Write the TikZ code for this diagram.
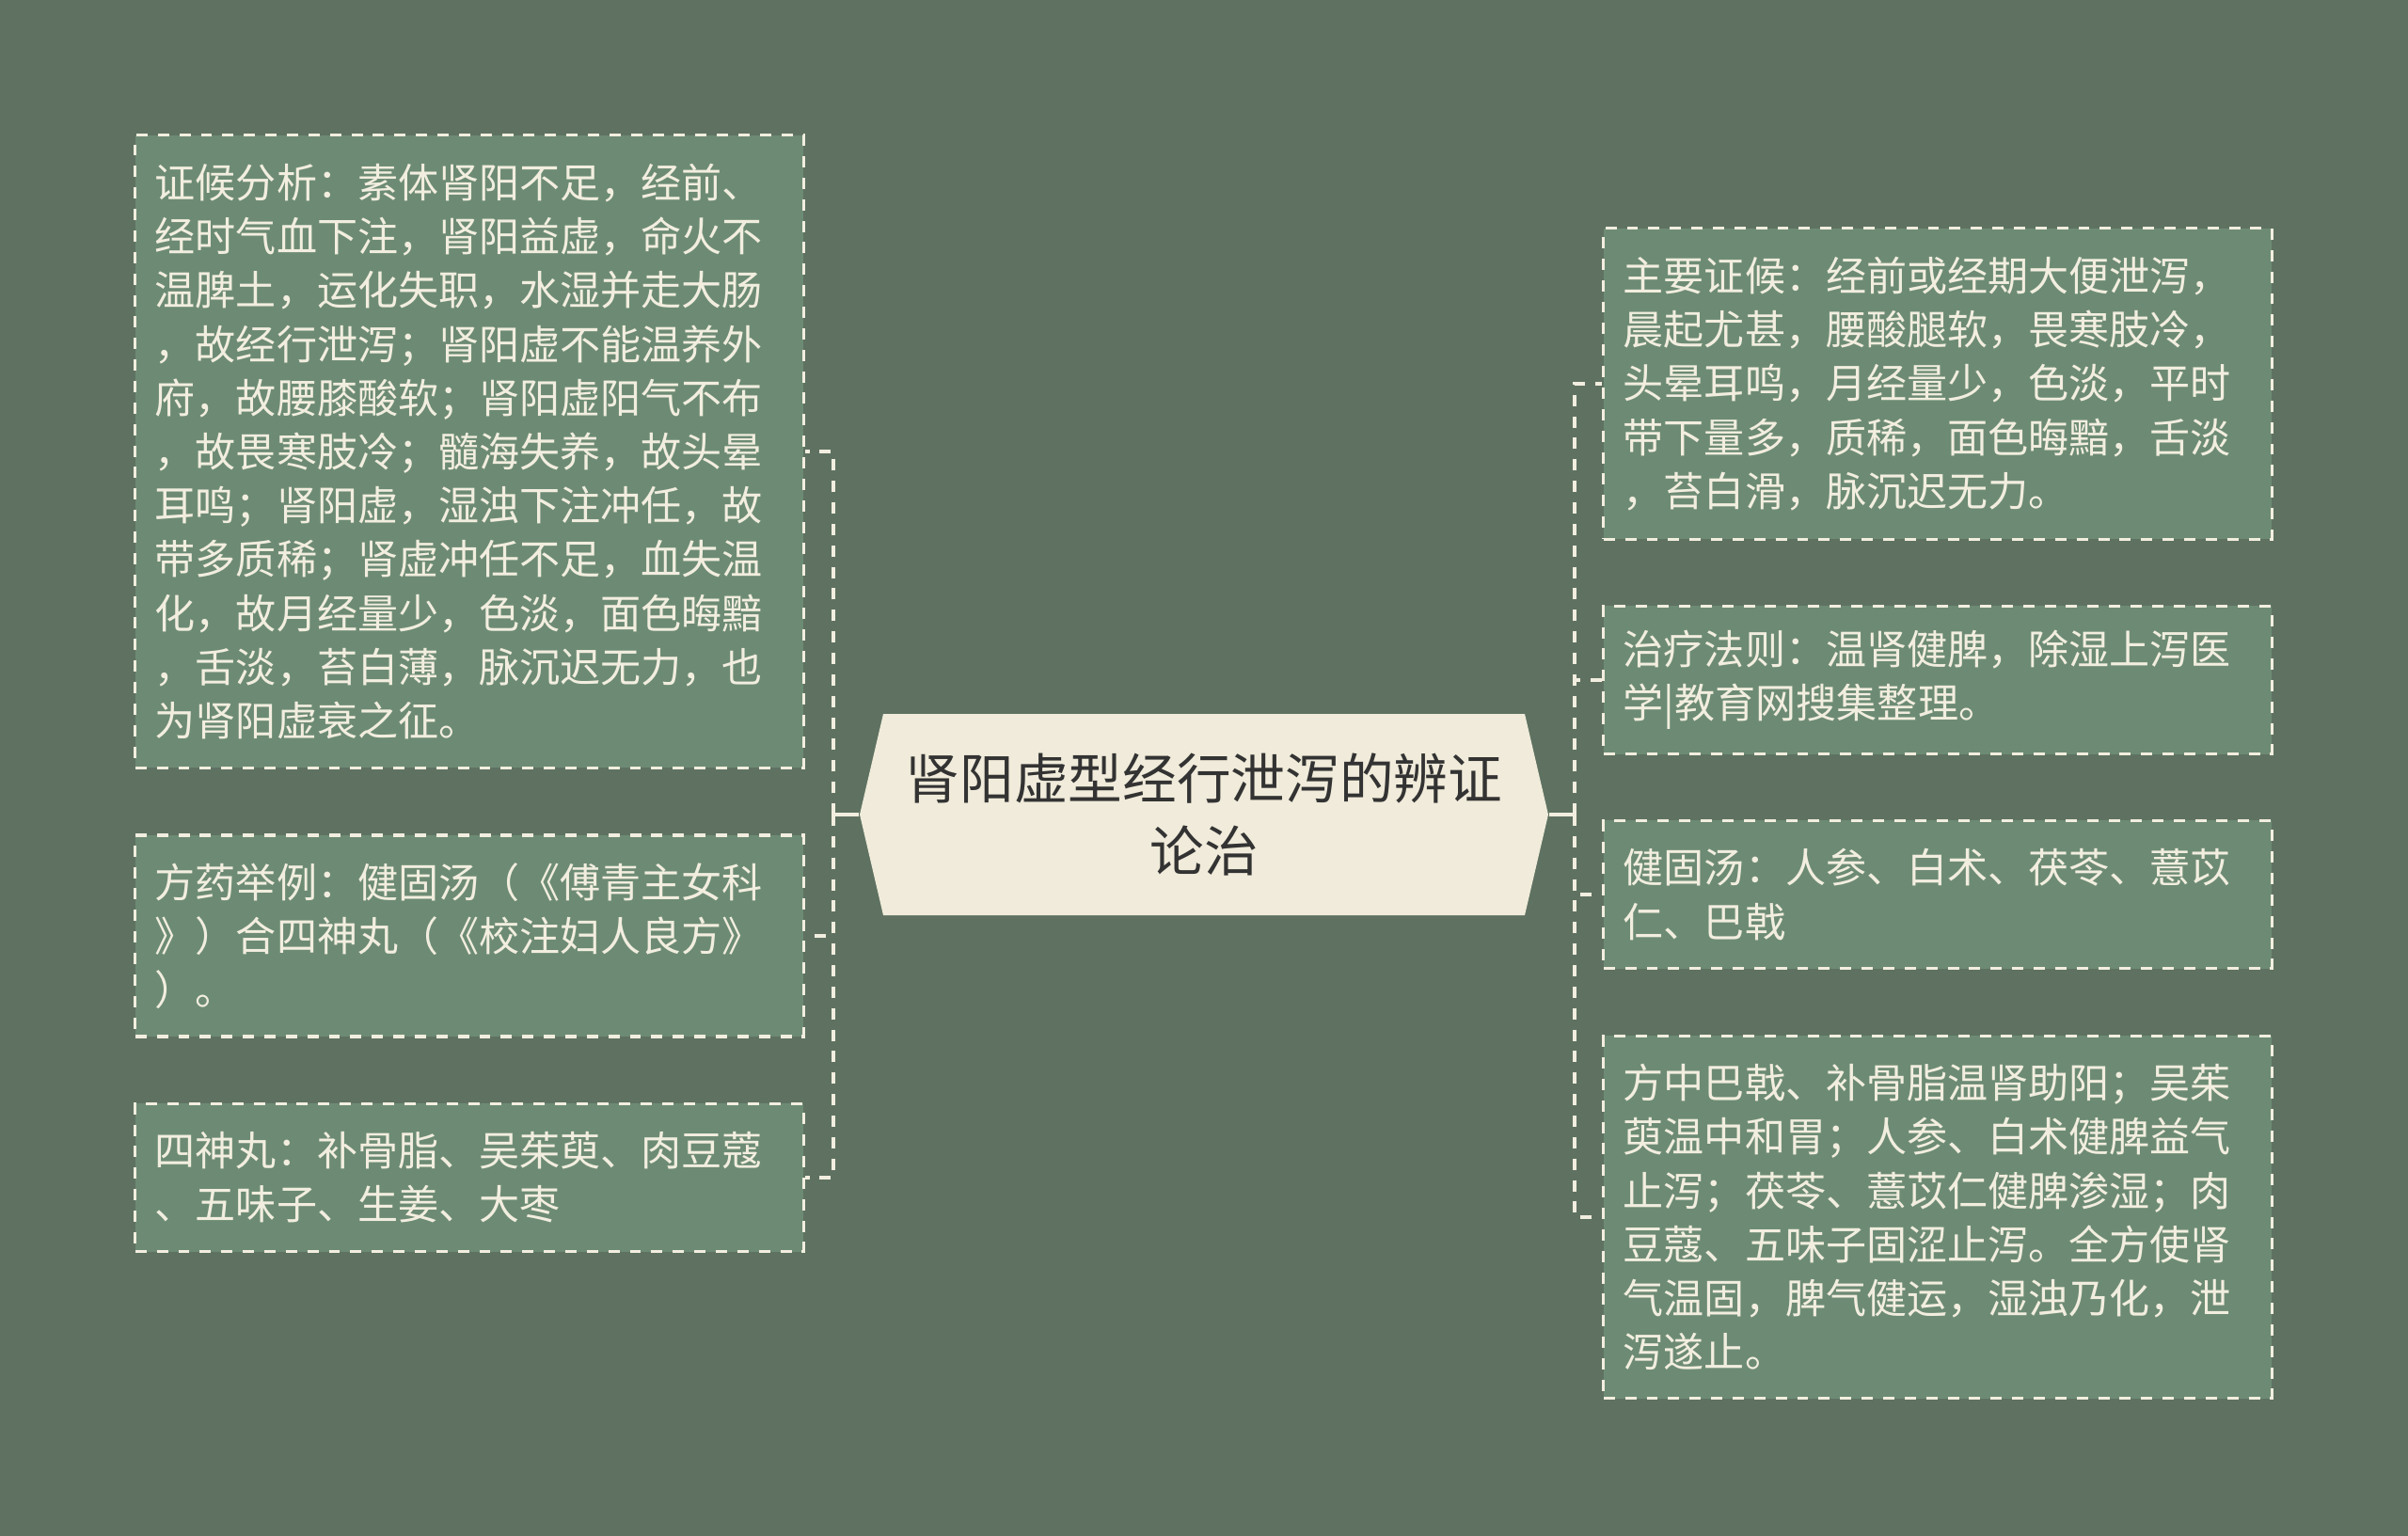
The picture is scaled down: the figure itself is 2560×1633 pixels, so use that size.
\documentclass[tikz,border=0pt]{standalone}
\usepackage{fontspec}
\setmainfont{Noto Sans CJK SC}
\definecolor{bgcol}{HTML}{5F7262}
\definecolor{boxcol}{HTML}{6D8B74}
\definecolor{linecol}{HTML}{F2EEDF}
\definecolor{hubcol}{HTML}{F0EBDA}
\definecolor{hubtext}{HTML}{333333}
\tikzset{leaf/.style = {draw=linecol, fill=boxcol, dash pattern=on 3.4pt off 3.1pt, line width=0.9pt, text=linecol, align=left, text width=6.68cm, inner xsep=0.21cm, inner ysep=0.2cm, minimum width=7.1cm, font=\fontsize{12.25pt}{16.26pt}\selectfont}}
\tikzset{link/.style = {draw=linecol, line width=0.9pt, dash pattern=on 3.4pt off 3.1pt}}
\tikzset{hub/.style = {text=hubtext, align=center, minimum width=7.32cm, minimum height=2.14cm, font=\fontsize{16.4pt}{21.8pt}\selectfont}}

\begin{document}
\begin{tikzpicture}[x=0.01cm, y=-0.01cm]
        \fill [bgcol] (0,0) rectangle (2560,1633);
        \useasboundingbox (0,0) rectangle (2560,1633);
        % centre hexagon
        \fill [hubcol] (914,866) -- (939,759) -- (1621,759) -- (1646,866) -- (1621,973) -- (939,973) -- cycle;
        \node [hub] (hub) at (1280,866) {肾阳虚型经行泄泻的辨证\\论治};
        % left column
        \node [leaf, minimum height=6.72cm] (analysis) at (499,480) {证候分析：素体肾阳不足，经前、\\经时气血下注，肾阳益虚，命火不\\温脾土，运化失职，水湿并走大肠\\，故经行泄泻；肾阳虚不能温养外\\府，故腰膝酸软；肾阳虚阳气不布\\，故畏寒肢冷；髓海失养，故头晕\\耳鸣；肾阳虚，湿浊下注冲任，故\\带多质稀；肾虚冲任不足，血失温\\化，故月经量少，色淡，面色晦黯\\，舌淡，苔白薄，脉沉迟无力，也\\为肾阳虚衰之征。};
        \node [leaf, minimum height=2.14cm] (recipe) at (499,995) {方药举例：健固汤（《傅青主女科\\》）合四神丸（《校注妇人良方》\\）。};
        \node [leaf, minimum height=1.57cm] (sishen) at (499,1252) {四神丸：补骨脂、吴茱萸、肉豆蔻\\、五味子、生姜、大枣};
        % right column
        \node [leaf, minimum height=3.3cm] (signs) at (2060,408) {主要证候：经前或经期大便泄泻，\\晨起尤甚，腰酸腿软，畏寒肢冷，\\头晕耳鸣，月经量少，色淡，平时\\带下量多，质稀，面色晦黯，舌淡\\，苔白滑，脉沉迟无力。};
        \node [leaf, minimum height=1.57cm] (rule) at (2060,723) {治疗法则：温肾健脾，除湿上泻医\\学|教育网搜集整理。};
        \node [leaf, minimum height=1.57cm] (jiangu) at (2060,951) {健固汤：人参、白术、茯苓、薏苡\\仁、巴戟};
        \node [leaf, minimum height=3.85cm] (explain) at (2060,1294) {方中巴戟、补骨脂温肾助阳；吴茱\\萸温中和胃；人参、白术健脾益气\\止泻；茯苓、薏苡仁健脾渗湿；肉\\豆蔻、五味子固涩止泻。全方使肾\\气温固，脾气健运，湿浊乃化，泄\\泻遂止。};
        % connectors
        \coordinate (lfork) at (886,866);
        \coordinate (rfork) at (1674,866);
        \draw [linecol, line width=0.9pt] (hub.west) -- (lfork);
        \draw [linecol, line width=0.9pt] (hub.east) -- (rfork);
        \foreach \leafname in {analysis,recipe,sishen}
            \draw [link] (lfork) |- (\leafname.east);
        \foreach \leafname in {signs,rule,jiangu,explain}
            \draw [link] (rfork) |- (\leafname.west);
    \end{tikzpicture}
\end{document}
